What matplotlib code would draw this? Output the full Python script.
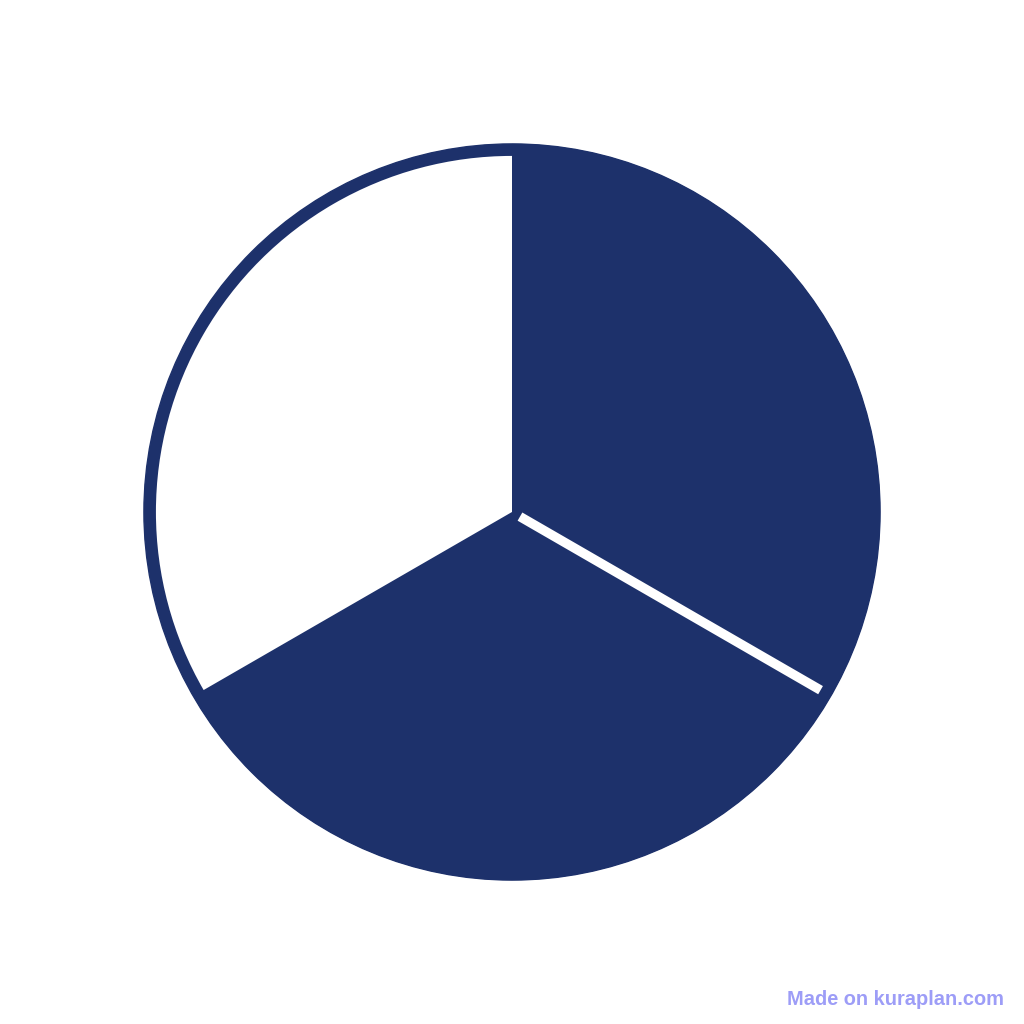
import matplotlib.pyplot as plt
from matplotlib.patches import Circle
import numpy as np

# three equal shares, last one left unfilled
values = [1, 1, 1]
colors = ["#1d316b", "#1d316b", "#ffffff"]

navy = "#1d316b"
ring = 12 / 368  # outline thickness of the empty slice

fig = plt.figure(figsize=(10.24, 10.24), dpi=100)
ax = fig.add_axes([0, 0, 1, 1])

# navy disc behind, so the empty slice shows an outline
ax.add_patch(Circle((0, 0), 1.0, color=navy, zorder=0))

wedges, _ = ax.pie(values, colors=colors, startangle=90, counterclock=False,
                   radius=1.0, wedgeprops=dict(linewidth=0))
wedges[2].set_radius(1.0 - ring)
for w in wedges:
    w.set_zorder(1)

# white gap between the two filled slices
ang = np.deg2rad(90 - 360 * values[0] / sum(values))
r = np.array([0.025, 0.968])
ax.plot(r * np.cos(ang), r * np.sin(ang), color="white", lw=6.8,
        solid_capstyle="butt", zorder=2)

ax.set_xlim(-1.391, 1.391)
ax.set_ylim(-1.391, 1.391)
ax.set_aspect("equal")
ax.axis("off")

fig.text(0.98, 0.024, "Made on kuraplan.com", ha="right", va="center",
         fontsize=14.4, fontweight="bold", color="#9d9df7",
         family=["Liberation Sans", "DejaVu Sans"])

fig.savefig("out.png", dpi=100)
